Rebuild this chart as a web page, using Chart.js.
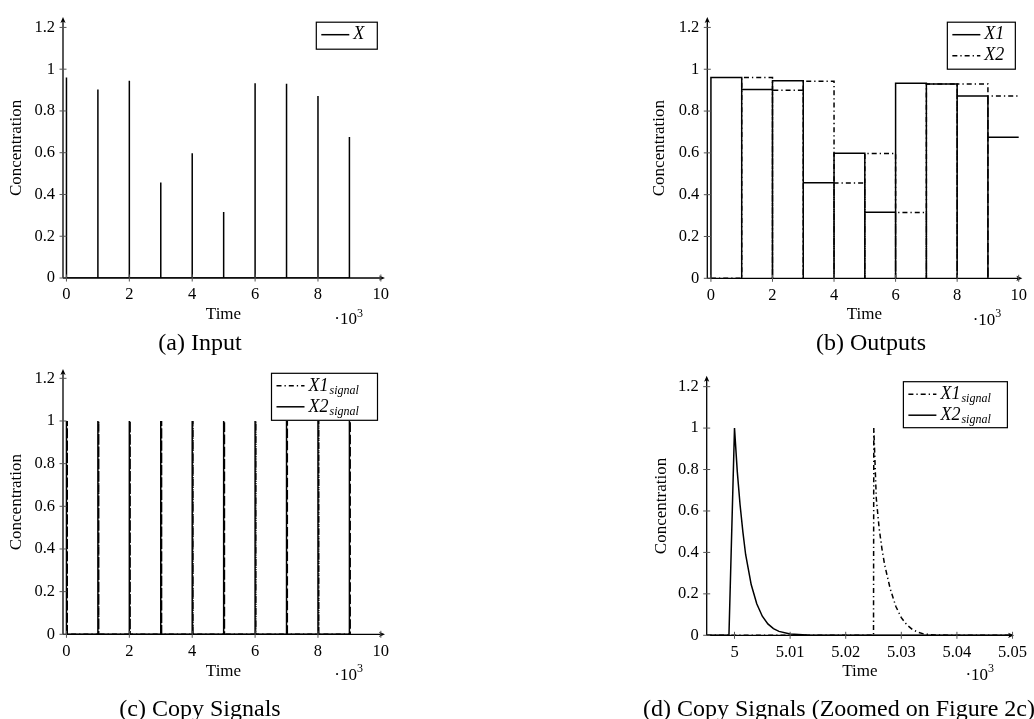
<!DOCTYPE html>
<html>
<head>
<meta charset="utf-8">
<script src="https://cdn.jsdelivr.net/npm/chart.js@4.4.1/dist/chart.umd.min.js"></script>
<style>
  html, body { margin: 0; padding: 0; background: #fff; }
  body { width: 1034px; height: 719px; position: relative; overflow: hidden; font-family: "Liberation Serif", serif; }
  canvas { position: absolute; left: 0; top: 0; }
  .cap { position: absolute; font-size: 24px; color: #000; white-space: nowrap; transform: translate(-50%, -50%); }
  .cap.left { transform: translate(0, -50%); }
</style>
</head>
<body>
<canvas id="chartA" width="1034" height="719"></canvas>
<canvas id="chartB" width="1034" height="719"></canvas>
<canvas id="chartC" width="1034" height="719"></canvas>
<canvas id="chartD" width="1034" height="719"></canvas>
<div class="cap" style="left:200px;top:342px">(a) Input</div>
<div class="cap" style="left:871px;top:342px">(b) Outputs</div>
<div class="cap" style="left:200px;top:708px">(c) Copy Signals</div>
<div class="cap left" style="left:643px;top:708px">(d) Copy Signals (Zoomed on Figure 2c)</div>
<script>
// ---- data ----
const inputTimes = [0, 1000, 2000, 3000, 4000, 5000, 6000, 7000, 8000, 9000];
const inputX = [0.96, 0.903, 0.945, 0.457, 0.598, 0.316, 0.933, 0.93, 0.872, 0.675];

const stepTimes = [0, 1000, 2000, 3000, 4000, 5000, 6000, 7000, 8000, 9000];
const stepEnd = 10000;
const outputX1 = [0.96, 0.903, 0.945, 0.457, 0.598, 0.316, 0.933, 0.93, 0.872, 0.675];
const outputX2 = [0, 0.96, 0.90, 0.943, 0.456, 0.597, 0.315, 0.93, 0.93, 0.872];

const signalTimesX1 = [25, 1025, 2025, 3025, 4025, 5025, 6025, 7025, 8025, 9025];
const signalTimesX2 = [0, 1000, 2000, 3000, 4000, 5000, 6000, 7000, 8000, 9000];
const signalPeaks = [1, 1, 1, 1, 1, 1, 1, 1, 1, 1];

const zoomTimesX1 = [4995, 5025, 5025.05, 5025.5, 5026, 5026.5, 5027, 5028, 5029, 5030, 5031, 5032, 5033, 5034, 5036, 5050];
const zoomX1 = [0, 0, 1, 0.66, 0.52, 0.42, 0.34, 0.225, 0.14, 0.085, 0.05, 0.028, 0.015, 0.007, 0.001, 0];
const zoomTimesX2 = [4995, 4999, 5000, 5000.5, 5001, 5001.5, 5002, 5003, 5004, 5005, 5006, 5007, 5008, 5010, 5013, 5050];
const zoomX2 = [0, 0, 1, 0.79, 0.63, 0.5, 0.39, 0.245, 0.152, 0.092, 0.055, 0.032, 0.019, 0.006, 0.001, 0];

const xTicksFull = [0, 2000, 4000, 6000, 8000, 10000];
const xLabelsFull = ['0', '2', '4', '6', '8', '10'];
const xTicksZoom = [5000, 5010, 5020, 5030, 5040, 5050];
const xLabelsZoom = ['5', '5.01', '5.02', '5.03', '5.04', '5.05'];
const yTicks = [0, 0.2, 0.4, 0.6, 0.8, 1, 1.2];
const yLabels = ['0', '0.2', '0.4', '0.6', '0.8', '1', '1.2'];

// ---- helpers to turn the arrays into point lists ----
function spikes(times, vals) {
  const pts = [];
  times.forEach((t, i) => { pts.push({x: t, y: 0}, {x: t, y: vals[i]}, {x: t, y: 0}); });
  return pts;
}
function steps(times, vals, end) {
  const pts = [];
  times.forEach((t, i) => {
    const next = i < times.length - 1 ? times[i + 1] : end;
    pts.push({x: t, y: 0}, {x: t, y: vals[i]}, {x: next, y: vals[i]});
  });
  return pts;
}
function pairs(times, vals) {
  return times.map((t, i) => ({x: t, y: vals[i]}));
}

const SERIF = '"Liberation Serif", "Times New Roman", serif';
const DASHDOT = [5, 3, 1.3, 3];
const LW = 1.5;

function lineSet(label, sub, pts, dash) {
  return {
    label: label, sub: sub, data: pts,
    borderColor: '#000', borderWidth: LW, borderDash: dash || [],
    pointRadius: 0, tension: 0, fill: false
  };
}

// axes with arrows, crossing tick marks, inner legend box, x10^3 label
const pgfLook = {
  id: 'pgfLook',
  afterDatasetsDraw(chart, args, o) {
    const {ctx, chartArea: a} = chart;
    const x = chart.scales.x, y = chart.scales.y;
    ctx.save();
    ctx.strokeStyle = '#000';
    ctx.fillStyle = '#000';
    ctx.lineWidth = 1.3;
    ctx.beginPath();
    ctx.moveTo(a.left, a.bottom); ctx.lineTo(a.right - 2, a.bottom);
    ctx.moveTo(a.left, a.bottom); ctx.lineTo(a.left, a.top + 2);
    ctx.stroke();
    // arrow heads
    ctx.beginPath();
    ctx.moveTo(a.right + 1, a.bottom);
    ctx.lineTo(a.right - 5, a.bottom - 2.6);
    ctx.lineTo(a.right - 3.5, a.bottom);
    ctx.lineTo(a.right - 5, a.bottom + 2.6);
    ctx.closePath(); ctx.fill();
    ctx.beginPath();
    ctx.moveTo(a.left, a.top - 1);
    ctx.lineTo(a.left - 2.6, a.top + 5);
    ctx.lineTo(a.left, a.top + 3.5);
    ctx.lineTo(a.left + 2.6, a.top + 5);
    ctx.closePath(); ctx.fill();
    // tick marks crossing the axes
    ctx.strokeStyle = '#555';
    ctx.lineWidth = 1;
    ctx.beginPath();
    x.ticks.forEach(t => {
      const px = x.getPixelForValue(t.value);
      ctx.moveTo(px, a.bottom - 3.5); ctx.lineTo(px, a.bottom + 3.5);
    });
    y.ticks.forEach(t => {
      const py = y.getPixelForValue(t.value);
      ctx.moveTo(a.left - 3.5, py); ctx.lineTo(a.left + 3.5, py);
    });
    ctx.stroke();

    // legend
    const L = o.legend;
    const left = a.right - L.dx - L.w, top = a.top + L.dy;
    ctx.fillStyle = '#fff';
    ctx.fillRect(left, top, L.w, L.h);
    ctx.strokeStyle = '#000';
    ctx.lineWidth = 1.2;
    ctx.strokeRect(left, top, L.w, L.h);
    chart.data.datasets.forEach((d, i) => {
      const yy = top + 12.5 + 21 * i;
      ctx.setLineDash(d.borderDash);
      ctx.lineWidth = LW;
      ctx.beginPath(); ctx.moveTo(left + 5, yy); ctx.lineTo(left + 33, yy); ctx.stroke();
      ctx.setLineDash([]);
      ctx.fillStyle = '#000';
      ctx.textBaseline = 'middle';
      ctx.textAlign = 'left';
      ctx.font = 'italic 18px ' + SERIF;
      ctx.fillText(d.label, left + 37, yy);
      if (d.sub) {
        const w = ctx.measureText(d.label).width;
        ctx.font = 'italic 12px ' + SERIF;
        ctx.fillText(d.sub, left + 38 + w, yy + 5);
      }
    });

    // multiplier
    ctx.font = '17px ' + SERIF;
    const base = '\u00b710';
    const wb = ctx.measureText(base).width;
    ctx.font = '12px ' + SERIF;
    const ws = ctx.measureText('3').width;
    const mx = a.right - o.mult.dx - wb - ws, my = a.bottom + o.mult.dy;
    ctx.textAlign = 'left';
    ctx.textBaseline = 'middle';
    ctx.font = '17px ' + SERIF;
    ctx.fillText(base, mx, my);
    ctx.font = '12px ' + SERIF;
    ctx.fillText('3', mx + wb, my - 6);
    ctx.restore();
  }
};

const TLH = 10.2; // half line height of 17px axis titles

function makeChart(id, datasets, ax) {
  return new Chart(document.getElementById(id), {
    type: 'line',
    data: {datasets: datasets},
    plugins: [pgfLook],
    options: {
      responsive: false,
      animation: false,
      events: [],
      layout: {padding: {left: ax.yTitleX - TLH, top: ax.top, right: 1034 - ax.right, bottom: 719 - (ax.xTitleY + TLH)}},
      plugins: {
        legend: {display: false},
        tooltip: {enabled: false},
        pgfLook: {legend: ax.legend, mult: ax.mult}
      },
      scales: {
        x: {
          type: 'linear', min: ax.xMin, max: ax.xMax,
          afterBuildTicks: s => { s.ticks = ax.xTicks.map(v => ({value: v})); },
          afterFit: s => { s.height = ax.xTitleY + TLH - ax.bottom; },
          ticks: {autoSkip: false, maxRotation: 0, padding: 7, color: '#000',
                  font: {family: SERIF, size: 16.5}, callback: (v, i) => ax.xLabels[i]},
          grid: {display: false, drawTicks: false},
          border: {display: false},
          title: {display: true, text: 'Time', padding: 0, color: '#000', font: {family: SERIF, size: 17, lineHeight: 1.2}}
        },
        y: {
          type: 'linear', min: 0, max: ax.yMax,
          afterBuildTicks: s => { s.ticks = yTicks.map(v => ({value: v})); },
          afterFit: s => { s.width = ax.left - (ax.yTitleX - TLH); },
          ticks: {autoSkip: false, padding: 8, color: '#000',
                  font: {family: SERIF, size: 16.5}, callback: (v, i) => yLabels[i]},
          grid: {display: false, drawTicks: false},
          border: {display: false},
          title: {display: true, text: 'Concentration', padding: 0, color: '#000', font: {family: SERIF, size: 17, lineHeight: 1.2}}
        }
      }
    }
  });
}

makeChart('chartA', [
  lineSet('X', '', spikes(inputTimes, inputX))
], {left: 63, right: 384, top: 13, bottom: 278, xMin: -110, xMax: 10100, yMax: 1.2456,
    xTicks: xTicksFull, xLabels: xLabelsFull, yTitleX: 16.7, xTitleY: 315,
    legend: {dx: 6.7, dy: 4.3, w: 61, h: 27}, mult: {dx: 21, dy: 42}});

makeChart('chartB', [
  lineSet('X1', '', steps(stepTimes, outputX1, stepEnd)),
  lineSet('X2', '', steps(stepTimes, outputX2, stepEnd), DASHDOT)
], {left: 707.3, right: 1027.7, top: 13, bottom: 278.3, xMin: -118, xMax: 10086, yMax: 1.2456,
    xTicks: xTicksFull, xLabels: xLabelsFull, yTitleX: 660, xTitleY: 315,
    legend: {dx: 6, dy: 4.3, w: 68, h: 47}, mult: {dx: 20, dy: 42}});

makeChart('chartC', [
  lineSet('X1', 'signal', spikes(signalTimesX1, signalPeaks), DASHDOT),
  lineSet('X2', 'signal', spikes(signalTimesX2, signalPeaks))
], {left: 63, right: 384, top: 370, bottom: 634.3, xMin: -110, xMax: 10100, yMax: 1.239,
    xTicks: xTicksFull, xLabels: xLabelsFull, yTitleX: 16.7, xTitleY: 671.7,
    legend: {dx: 6.5, dy: 3.3, w: 106, h: 47}, mult: {dx: 21, dy: 41}});

makeChart('chartD', [
  lineSet('X1', 'signal', pairs(zoomTimesX1, zoomX1), DASHDOT),
  lineSet('X2', 'signal', pairs(zoomTimesX2, zoomX2))
], {left: 706.7, right: 1019, top: 376.7, bottom: 635.3, xMin: 4995, xMax: 5050.1, yMax: 1.248,
    xTicks: xTicksZoom, xLabels: xLabelsZoom, yTitleX: 661.7, xTitleY: 671.7,
    legend: {dx: 5.7, dy: 5, w: 104, h: 46}, mult: {dx: 19, dy: 40}});
</script>
</body>
</html>
